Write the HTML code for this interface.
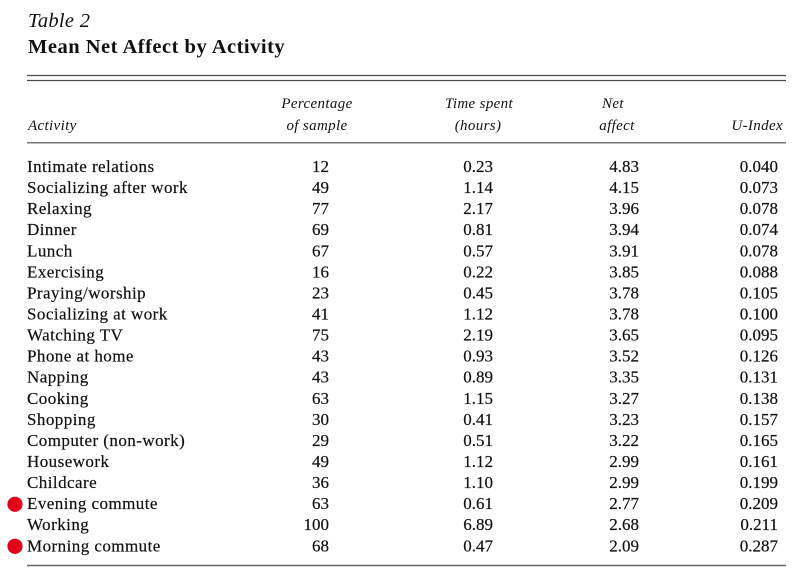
<!DOCTYPE html>
<html>
<head>
<meta charset="utf-8">
<style>
html,body{margin:0;padding:0;background:#fff;}
svg{display:block;}
.t{font-family:"Liberation Serif",serif;fill:#111;}
.name{font-size:17px;letter-spacing:0.45px;stroke:#111;stroke-width:0.2px;}
.num{font-size:17px;stroke:#111;stroke-width:0.2px;}
.hd{font-size:15px;font-style:italic;letter-spacing:0.35px;}
</style>
</head>
<body>
<svg width="800" height="571" viewBox="0 0 800 571" xmlns="http://www.w3.org/2000/svg">
<text class="t" x="28" y="27" style="font-size:20.5px;font-style:italic;letter-spacing:0.3px">Table 2</text>
<text class="t" x="28" y="53" style="font-size:20.5px;font-weight:bold;letter-spacing:0.5px">Mean Net Affect by Activity</text>

<line x1="27" y1="75.5" x2="786" y2="75.5" stroke="#4a4a4a" stroke-width="1.2"/>
<line x1="27" y1="80.5" x2="786" y2="80.5" stroke="#4a4a4a" stroke-width="1.2"/>
<line x1="27" y1="142.8" x2="786" y2="142.8" stroke="#4a4a4a" stroke-width="1.2"/>
<line x1="27" y1="565.5" x2="786" y2="565.5" stroke="#666" stroke-width="1.5"/>

<g class="t hd">
<text x="28" y="130">Activity</text>
<text x="317" y="108" text-anchor="middle">Percentage</text>
<text x="317" y="130" text-anchor="middle">of sample</text>
<text x="479" y="108" text-anchor="middle">Time spent</text>
<text x="478" y="130" text-anchor="middle">(hours)</text>
<text x="613" y="108" text-anchor="middle">Net</text>
<text x="617" y="130" text-anchor="middle">affect</text>
<text x="783" y="130" text-anchor="end">U-Index</text>
</g>

<circle cx="15" cy="504.3" r="7.6" fill="#e2001a"/>
<circle cx="15" cy="546.3" r="7.6" fill="#e2001a"/>

<g class="t name">
<text x="27" y="172">Intimate relations</text>
<text x="27" y="193.1">Socializing after work</text>
<text x="27" y="214.2">Relaxing</text>
<text x="27" y="235.2">Dinner</text>
<text x="27" y="256.3">Lunch</text>
<text x="27" y="277.4">Exercising</text>
<text x="27" y="298.5">Praying/worship</text>
<text x="27" y="319.5">Socializing at work</text>
<text x="27" y="340.6">Watching TV</text>
<text x="27" y="361.7">Phone at home</text>
<text x="27" y="382.7">Napping</text>
<text x="27" y="403.8">Cooking</text>
<text x="27" y="424.9">Shopping</text>
<text x="27" y="445.9">Computer (non-work)</text>
<text x="27" y="467">Housework</text>
<text x="27" y="488.1">Childcare</text>
<text x="27" y="509.2">Evening commute</text>
<text x="27" y="530.2">Working</text>
<text x="27" y="551.3">Morning commute</text>
</g>

<g class="t num" text-anchor="end">
<text x="329" y="172">12</text>
<text x="329" y="193.1">49</text>
<text x="329" y="214.2">77</text>
<text x="329" y="235.2">69</text>
<text x="329" y="256.3">67</text>
<text x="329" y="277.4">16</text>
<text x="329" y="298.5">23</text>
<text x="329" y="319.5">41</text>
<text x="329" y="340.6">75</text>
<text x="329" y="361.7">43</text>
<text x="329" y="382.7">43</text>
<text x="329" y="403.8">63</text>
<text x="329" y="424.9">30</text>
<text x="329" y="445.9">29</text>
<text x="329" y="467">49</text>
<text x="329" y="488.1">36</text>
<text x="329" y="509.2">63</text>
<text x="329" y="530.2">100</text>
<text x="329" y="551.3">68</text>

<text x="493" y="172">0.23</text>
<text x="493" y="193.1">1.14</text>
<text x="493" y="214.2">2.17</text>
<text x="493" y="235.2">0.81</text>
<text x="493" y="256.3">0.57</text>
<text x="493" y="277.4">0.22</text>
<text x="493" y="298.5">0.45</text>
<text x="493" y="319.5">1.12</text>
<text x="493" y="340.6">2.19</text>
<text x="493" y="361.7">0.93</text>
<text x="493" y="382.7">0.89</text>
<text x="493" y="403.8">1.15</text>
<text x="493" y="424.9">0.41</text>
<text x="493" y="445.9">0.51</text>
<text x="493" y="467">1.12</text>
<text x="493" y="488.1">1.10</text>
<text x="493" y="509.2">0.61</text>
<text x="493" y="530.2">6.89</text>
<text x="493" y="551.3">0.47</text>

<text x="639" y="172">4.83</text>
<text x="639" y="193.1">4.15</text>
<text x="639" y="214.2">3.96</text>
<text x="639" y="235.2">3.94</text>
<text x="639" y="256.3">3.91</text>
<text x="639" y="277.4">3.85</text>
<text x="639" y="298.5">3.78</text>
<text x="639" y="319.5">3.78</text>
<text x="639" y="340.6">3.65</text>
<text x="639" y="361.7">3.52</text>
<text x="639" y="382.7">3.35</text>
<text x="639" y="403.8">3.27</text>
<text x="639" y="424.9">3.23</text>
<text x="639" y="445.9">3.22</text>
<text x="639" y="467">2.99</text>
<text x="639" y="488.1">2.99</text>
<text x="639" y="509.2">2.77</text>
<text x="639" y="530.2">2.68</text>
<text x="639" y="551.3">2.09</text>

<text x="778" y="172">0.040</text>
<text x="778" y="193.1">0.073</text>
<text x="778" y="214.2">0.078</text>
<text x="778" y="235.2">0.074</text>
<text x="778" y="256.3">0.078</text>
<text x="778" y="277.4">0.088</text>
<text x="778" y="298.5">0.105</text>
<text x="778" y="319.5">0.100</text>
<text x="778" y="340.6">0.095</text>
<text x="778" y="361.7">0.126</text>
<text x="778" y="382.7">0.131</text>
<text x="778" y="403.8">0.138</text>
<text x="778" y="424.9">0.157</text>
<text x="778" y="445.9">0.165</text>
<text x="778" y="467">0.161</text>
<text x="778" y="488.1">0.199</text>
<text x="778" y="509.2">0.209</text>
<text x="778" y="530.2">0.211</text>
<text x="778" y="551.3">0.287</text>
</g>
</svg>
</body>
</html>
